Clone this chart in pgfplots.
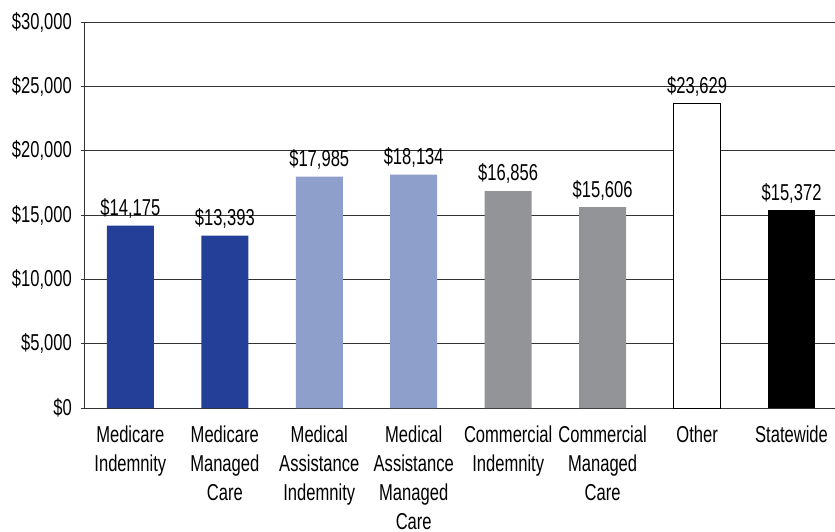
\documentclass[border=0pt]{standalone}
\usepackage{fontspec}
\setmainfont{Liberation Sans}[FakeStretch=0.72]
\usepackage{pgfplots}
\pgfplotsset{compat=1.18}
\usetikzlibrary{calc}
\definecolor{dblue}{HTML}{233F98}
\definecolor{lblue}{HTML}{8F9FCC}
\definecolor{mgray}{HTML}{929497}
\begin{document}
\begin{tikzpicture}
\begin{axis}[
  name=ax,
  scale only axis,
  width=750pt, height=386pt,
  xmin=-0.48, xmax=7.46,
  ymin=0, ymax=30000,
  ytick={0,5000,...,30000},
  scaled y ticks=false,
  xtick={0,...,7},
  xticklabels={{Medicare\\Indemnity},{Medicare\\Managed\\Care},{Medical\\Assistance\\Indemnity},{Medical\\Assistance\\Managed\\Care},{Commercial\\Indemnity},{Commercial\\Managed\\Care},{Other},{Statewide}},
  axis lines=left,
  axis line style={black!80, line width=1pt, -},
  ymajorgrids,
  grid style={black!80, line width=0.9pt},
  major tick length=4pt,
  tick align=outside,
  ytick style={black!80, line width=0.9pt},
  xtick style={draw=none},
  /pgf/number format/assume math mode=true,
  /pgf/number format/1000 sep={,},
  yticklabel={\$\pgfmathprintnumber[fixed,precision=0]{\tick}},
  yticklabel style={font=\fontsize{23}{27}\selectfont, inner sep=0pt, xshift=-9pt},
  xticklabel style={font=\fontsize{23}{29}\selectfont, align=center, anchor=north, inner sep=0pt, yshift=-14pt},
  ybar, bar width=47pt, bar shift=0pt,
  nodes near coords={\$\pgfmathprintnumber[fixed,precision=0]{\pgfplotspointmeta}},
  every node near coord/.append style={font=\fontsize{23}{27}\selectfont, anchor=south, inner sep=0pt, yshift=7pt, black},
]
\addplot[fill=dblue, draw=none] coordinates {(0,14175) (1,13393)};
\addplot[fill=lblue, draw=none] coordinates {(2,17985) (3,18134)};
\addplot[fill=mgray, draw=none] coordinates {(4,16856) (5,15606)};
\addplot[fill=white, draw=black, line width=1pt] coordinates {(6,23629)};
\addplot[fill=black, draw=none] coordinates {(7,15372)};
\end{axis}
\pgfresetboundingbox
\path[use as bounding box] ($(ax.south west)+(-85pt,-123pt)$) rectangle ($(ax.north east)+(0pt,22pt)$);
\end{tikzpicture}
\end{document}
